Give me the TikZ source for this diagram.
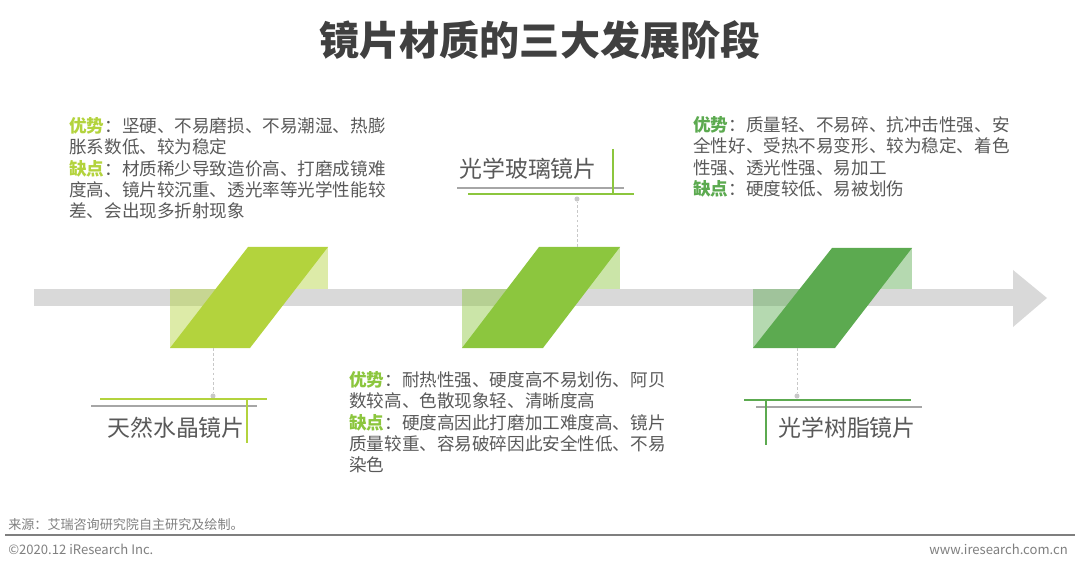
\documentclass[tikz,border=0pt]{standalone}
\usepackage{fontspec}
\usepackage{xcolor}
\usepackage{tikz}
\usetikzlibrary{arrows.meta,positioning,calc}
\setmainfont{Noto Sans CJK SC}
\definecolor{TextGray}{HTML}{595959}
\definecolor{TitleGray}{HTML}{404040}
\definecolor{FootGray}{HTML}{7F7F7F}
\definecolor{BarGray}{HTML}{D9D9D9}
\definecolor{DotGray}{HTML}{C8C8C8}
\definecolor{LineGray}{HTML}{A6A6A6}
\definecolor{LimeGreen}{HTML}{B3D33D}
\definecolor{MidGreen}{HTML}{8CC63E}
\definecolor{DeepGreen}{HTML}{5CAA50}

\begin{document}
\begin{tikzpicture}[
    x=0.025cm, y=-0.025cm,
    % 正文说明文字
    descbox/.style={anchor=north west, inner sep=0pt, align=left, text=TextGray,
        font=\fontsize{12.5}{15.2}\selectfont},
    stagelabel/.style={inner sep=0pt, text=TextGray, font=\fontsize{16.3}{18}\selectfont},
    footnote/.style={inner sep=0pt, text=FootGray, font=\fontsize{9.3}{11}\selectfont},
    dotnode/.style={circle, fill=DotGray, inner sep=0pt, minimum size=3.6pt},
    leader/.style={draw=DotGray, line width=0.7pt, dash pattern=on 2pt off 1.5pt},
    greyrule/.style={draw=LineGray, line width=1.4pt},
    greenrule/.style={line width=1.1pt},
    greenpost/.style={line width=1.4pt}
]
\useasboundingbox (0,0) rectangle (1080,571);

% 标题
\node[font=\fontsize{28.5}{32}\selectfont\bfseries, text=TitleGray] (title) at (540,40) {镜片材质的三大发展阶段};

% 时间轴箭头
\fill[BarGray] (34,289.5) rectangle (1013,305.5);
\fill[BarGray] (1013,270) -- (1047,298) -- (1013,327) -- cycle;

% 第一阶段：天然水晶
\fill[LimeGreen, fill opacity=0.45] (170,289) rectangle (250,348);
\fill[LimeGreen, fill opacity=0.45] (248,247) rectangle (328,289);
\fill[LimeGreen] (170,348) -- (248,247) -- (328,247) -- (250,348) -- cycle;

% 第二阶段：光学玻璃
\fill[MidGreen, fill opacity=0.45] (462,289) rectangle (543,348);
\fill[MidGreen, fill opacity=0.45] (539,247) rectangle (620,289);
\fill[MidGreen] (462,348) -- (539,247) -- (620,247) -- (543,348) -- cycle;

% 第三阶段：光学树脂
\fill[DeepGreen, fill opacity=0.45] (753,289) rectangle (835,348);
\fill[DeepGreen, fill opacity=0.45] (832,248) rectangle (912,289);
\fill[DeepGreen] (753,348) -- (832,248) -- (912,248) -- (835,348) -- cycle;

% 引线端点
\coordinate (crystal) at (213,348);
\coordinate (glass) at (577,247);
\coordinate (resin) at (797,348);
\node[dotnode] (dcrystal) at (213,396) {};
\node[dotnode] (dglass) at (577,199) {};
\node[dotnode] (dresin) at (797,396) {};
\draw[leader] (crystal) -- (dcrystal);
\draw[leader] (glass) -- (dglass);
\draw[leader] (resin) -- (dresin);

% 阶段名称及装饰线
\draw[greenrule, draw=LimeGreen] (100,399) -- (267,399);
\draw[greyrule] (91,406) -- (257,406);
\draw[greenpost, draw=LimeGreen] (247,399) -- (247,443);
\node[stagelabel] (lcrystal) at (176,428) {天然水晶镜片};

\draw[greyrule] (457,188) -- (624,188);
\draw[greenrule, draw=MidGreen] (468,194) -- (634,194);
\draw[greenpost, draw=MidGreen] (613,149) -- (613,194);
\node[stagelabel] (lglass) at (528,169) {光学玻璃镜片};

\draw[greenrule, draw=DeepGreen] (744,400) -- (911,400);
\draw[greyrule] (756,407) -- (922,407);
\draw[greenpost, draw=DeepGreen] (766,400) -- (766,445);
\node[stagelabel] (lresin) at (847,428) {光学树脂镜片};

% 优缺点说明
\node[descbox] (tcrystal) at (69,117) {\textcolor{LimeGreen}{\bfseries 优势}：坚硬、不易磨损、不易潮湿、热膨\\胀系数低、较为稳定\\\textcolor{LimeGreen}{\bfseries 缺点}：材质稀少导致造价高、打磨成镜难\\度高、镜片较沉重、透光率等光学性能较\\差、会出现多折射现象};
\node[descbox] (tglass) at (349,371) {\textcolor{MidGreen}{\bfseries 优势}：耐热性强、硬度高不易划伤、阿贝\\数较高、色散现象轻、清晰度高\\\textcolor{MidGreen}{\bfseries 缺点}：硬度高因此打磨加工难度高、镜片\\质量较重、容易破碎因此安全性低、不易\\染色};
\node[descbox] (tresin) at (693,116) {\textcolor{DeepGreen}{\bfseries 优势}：质量轻、不易碎、抗冲击性强、安\\全性好、受热不易变形、较为稳定、着色\\性强、透光性强、易加工\\\textcolor{DeepGreen}{\bfseries 缺点}：硬度较低、易被划伤};

% 页脚
\node[footnote, anchor=west] (source) at (8,525) {来源：艾瑞咨询研究院自主研究及绘制。};
\draw[draw=FootGray, line width=1pt] (5,535) -- (1075,535);
\node[footnote, anchor=west] (copyright) at (8,549) {©2020.12 iResearch Inc.};
\node[footnote, anchor=east] (website) at (1068,549) {www.iresearch.com.cn};
\end{tikzpicture}
\end{document}
